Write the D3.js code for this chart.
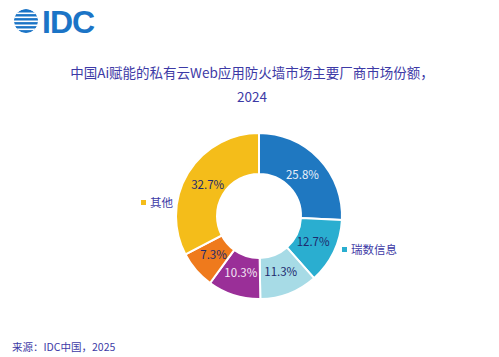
<!DOCTYPE html>
<html><head><meta charset="utf-8">
<script src="https://cdn.jsdelivr.net/npm/d3@7"></script>
<style>body{margin:0;background:#fff;} svg{display:block;font-family:"Noto Sans CJK SC","Noto Sans",sans-serif;}</style>
</head><body>
<svg id="c" width="499" height="357"></svg>
<script>
const categories = ["厂商A","瑞数信息","厂商B","厂商C","厂商D","其他"];
const shares = [25.8, 12.7, 11.3, 10.3, 7.3, 32.7];
const colors = ["#1f78c1","#2aaed0","#a7dbe6","#9a2f98","#ef7a1c","#f4bd1a"];
const labelColors = ["#e8f0fa","#1e2a6e","#1e2a6e","#f3e8f5","#1e2a6e","#1e2a6e"];
const legendItems = ["瑞数信息","其他"];
const titleLines = ["中国Ai赋能的私有云Web应用防火墙市场主要厂商市场份额，","2024"];
const sourceText = "来源：IDC中国，2025";

const svg = d3.select("#c");
const indigo = "#3d3aa6";

// Logo
const defs = svg.append("defs");
defs.append("clipPath").attr("id","globe").append("circle").attr("cx",26).attr("cy",21).attr("r",12);
const g0 = svg.append("g").attr("clip-path","url(#globe)");
g0.append("circle").attr("cx",26).attr("cy",21).attr("r",12).attr("fill","#1b74c6");
[12.5,16.5,20.5,24.5,28.5].forEach((y,i)=>{
  g0.append("rect").attr("x",10+ (i%2?4:0)).attr("y",y).attr("width",40).attr("height",1.6).attr("fill","#fff");
});
svg.append("text").attr("x",42).attr("y",33).attr("font-family","Liberation Sans, Arial, sans-serif")
  .attr("font-size",32).attr("font-weight","bold").attr("fill","#1b74c6").attr("letter-spacing",-1).text("IDC");

// Title
svg.selectAll("text.title").data(titleLines).join("text").attr("class","title")
  .attr("x",252).attr("y",(d,i)=>78+i*24).attr("text-anchor","middle")
  .attr("font-size",13.5).attr("fill",indigo).text(d=>d);

// Donut
const cx = 259, cy = 216, rOuter = 83, rInner = 42;
const pie = d3.pie().value(d=>d).sort(null);
const arcs = pie(shares);
const arc = d3.arc().innerRadius(rInner).outerRadius(rOuter);
const labelArc = d3.arc().innerRadius(60).outerRadius(60);
const g = svg.append("g").attr("transform",`translate(${cx},${cy})`);
g.selectAll("path").data(arcs).join("path")
  .attr("d",arc).attr("fill",(d,i)=>colors[i]).attr("stroke","#fff").attr("stroke-width",2);
g.selectAll("text").data(arcs).join("text")
  .attr("transform",d=>`translate(${labelArc.centroid(d)})`)
  .attr("text-anchor","middle").attr("dy","0.35em").attr("font-size",11.5)
  .attr("fill",(d,i)=>labelColors[i]).text(d=>d.data.toFixed(1)+"%");

// Outside legend labels
const legendPos = {"瑞数信息":{x:342,y:250,c:colors[1]},"其他":{x:141,y:203,c:colors[5]}};
legendItems.forEach(name=>{
  const p = legendPos[name];
  svg.append("rect").attr("x",p.x).attr("y",p.y-3).attr("width",5).attr("height",5).attr("fill",p.c);
  svg.append("text").attr("x",p.x+9).attr("y",p.y).attr("dy","0.35em").attr("font-size",11.5).attr("fill",indigo).text(name);
});

// Source
svg.append("text").attr("x",12).attr("y",351).attr("font-size",10.5).attr("fill",indigo).text(sourceText);
</script>
</body></html>
